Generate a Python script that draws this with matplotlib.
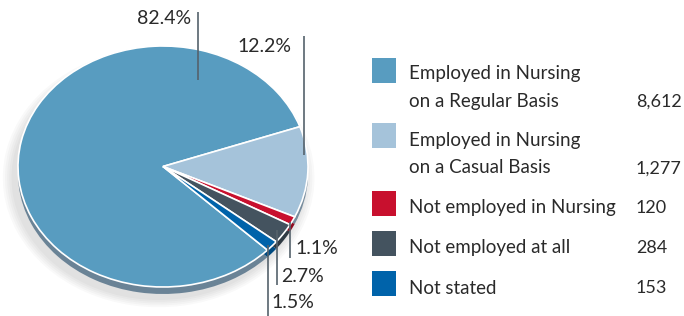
import matplotlib.pyplot as plt
from matplotlib.colors import to_rgb

# data
categories = ["Employed in Nursing\non a Regular Basis", "Employed in Nursing\non a Casual Basis",
              "Not employed in Nursing", "Not employed at all", "Not stated"]
counts = [8612, 1277, 120, 284, 153]
count_labels = ["8,612", "1,277", "120", "284", "153"]
pct_labels = ["82.4%", "12.2%", "1.1%", "2.7%", "1.5%"]
colors = ["#589cc0", "#a5c3da", "#c8102e", "#44535f", "#0063aa"]

W, H = 684, 316
plt.rcParams['font.family'] = ['Lato', 'DejaVu Sans']
txt_color = "#2a2a2a"

fig = plt.figure(figsize=(W / 100, H / 100), dpi=100)

# pie axes: ellipse (rx=145px, ry=120.5px) plus ~7px of depth
depth = 7 / 120.5
ax = fig.add_axes([18 / W, (H - 294) / H, 290 / W, 248 / H])

total = sum(counts)
start = 19.3 + 360 * counts[0] / total

def darker(c, f=0.72):
    r, g, b = to_rgb(c)
    return (r * f, g * f, b * f)

# soft shadow
for i in range(5):
    ax.pie(counts, radius=1.0 + 0.015 * (i + 1), center=(-0.03, -depth - 0.035),
           colors=["#000000"] * 5, startangle=start, counterclock=False,
           wedgeprops=dict(linewidth=0, alpha=0.022))

side_cols = ["#6a8396", darker(colors[1]), darker(colors[2]), "#2f3a43", "#004a80"]
ax.pie(counts, radius=1.0, center=(0, -depth), colors=side_cols, startangle=start,
       counterclock=False, wedgeprops=dict(linewidth=0))
ax.pie(counts, radius=1.0, colors=colors, startangle=start, counterclock=False,
       wedgeprops=dict(edgecolor="white", linewidth=1.2))
ax.set_aspect("auto")
ax.set_xlim(-1, 1)
ax.set_ylim(-1 - depth, 1)
ax.axis("off")

# overlay in pixel coordinates for leaders, labels and legend
ov = fig.add_axes([0, 0, 1, 1])
ov.set_xlim(0, W)
ov.set_ylim(H, 0)
ov.axis("off")

line_col = "#55626c"
fs = 14
# (line x, y top, y bottom, label x, label y, ha)
leaders = [(198, 12, 80, 191, 19, "right"),
           (304, 36, 155, 291, 46, "right"),
           (290, 222, 258, 295, 248, "left"),
           (277, 230, 285, 281, 277, "left"),
           (268, 245, 316, 271, 302, "left")]
for lab, (lx, y0, y1, tx, ty, ha) in zip(pct_labels, leaders):
    ov.plot([lx, lx], [y0, y1], color=line_col, lw=1.2, solid_capstyle="butt")
    ov.text(tx, ty, lab, fontsize=fs, color=txt_color, ha=ha, va="center")

# legend
box_y = [58, 123, 191, 231, 271]
text_y = [87.5, 154, 208, 248, 288]
for cat, c, n, by, ty in zip(categories, colors, count_labels, box_y, text_y):
    ov.add_patch(plt.Rectangle((372, by), 24, 25, color=c, lw=0))
    ov.text(409, ty, cat, fontsize=13.5, color=txt_color, ha="left", va="center",
            linespacing=1.75)
    ny = ty + (14.5 if "\n" in cat else 0)
    ov.text(636, ny, n, fontsize=13, color=txt_color, ha="left", va="center")

fig.savefig("out.png", dpi=100)
